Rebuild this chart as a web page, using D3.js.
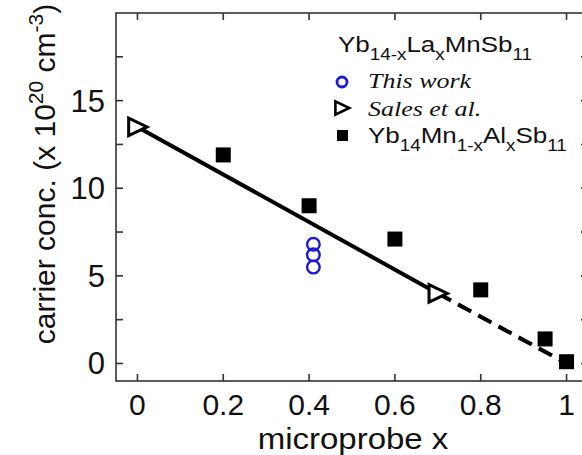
<!DOCTYPE html>
<html>
<head>
<meta charset="utf-8">
<script src="https://cdn.jsdelivr.net/npm/d3@7"></script>
<style>
  body { margin: 0; background: #fff; }
  svg { display: block; }
  text { font-family: "Liberation Sans", Arial, Helvetica, sans-serif; fill: #111; }
  .it { font-family: "Liberation Serif", "Times New Roman", serif; font-style: italic; }
</style>
</head>
<body>
<div id="chart"></div>
<script>
// 数据
var thisWorkX = [0.41, 0.41, 0.41];
var thisWorkY = [6.8, 6.2, 5.5];
var salesX = [0, 0.7];
var salesY = [13.5, 4.0];
var alX = [0.2, 0.4, 0.6, 0.8, 0.95, 1.0];
var alY = [11.9, 9.0, 7.1, 4.2, 1.4, 0.1];
// 拟合线: 实线段 + 虚线段
var fitSolidX = [0, 0.7];
var fitSolidY = [13.5, 4.0];
var fitDashX = [0.7, 1.0];
var fitDashY = [4.0, 0.0];
var xTicks = [0, 0.2, 0.4, 0.6, 0.8, 1];
var xTickLabels = ['0', '0.2', '0.4', '0.6', '0.8', '1'];
var yTicks = [0, 2.5, 5, 7.5, 10, 12.5, 15, 17.5];
var yTickLabels = [0, 5, 10, 15];

var width = 582;
var height = 455;
var plot = { left: 116, top: 13, right: 588, bottom: 381 };

var svg = d3.select('#chart')
    .append('svg')
    .attr('width', width)
    .attr('height', height);

var xScale = d3.scaleLinear()
    .domain([-0.05, 1.05])
    .range([plot.left, plot.right]);
var yScale = d3.scaleLinear()
    .domain([-1, 20])
    .range([plot.bottom, plot.top]);

var frameColor = '#333';
var tickLen = 7;

// 四条边框
svg.append('rect')
    .attr('x', plot.left)
    .attr('y', plot.top)
    .attr('width', plot.right - plot.left)
    .attr('height', plot.bottom - plot.top)
    .attr('fill', 'none')
    .attr('stroke', frameColor)
    .attr('stroke-width', 1.6);

// 刻度 (朝内)
var ticks = svg.append('g').attr('stroke', frameColor).attr('stroke-width', 1.6);
xTicks.forEach(function (t) {
    ticks.append('line')
        .attr('x1', xScale(t)).attr('x2', xScale(t))
        .attr('y1', plot.bottom).attr('y2', plot.bottom - tickLen);
    ticks.append('line')
        .attr('x1', xScale(t)).attr('x2', xScale(t))
        .attr('y1', plot.top).attr('y2', plot.top + tickLen);
});
yTicks.forEach(function (t) {
    ticks.append('line')
        .attr('x1', plot.left).attr('x2', plot.left + tickLen)
        .attr('y1', yScale(t)).attr('y2', yScale(t));
    ticks.append('line')
        .attr('x1', plot.right).attr('x2', plot.right - tickLen)
        .attr('y1', yScale(t)).attr('y2', yScale(t));
});

// 刻度标签
svg.append('g')
    .selectAll('text')
    .data(xTicks)
    .enter()
    .append('text')
    .attr('x', function (d) { return xScale(d); })
    .attr('y', 414.5)
    .attr('text-anchor', 'middle')
    .attr('font-size', 30)
    .text(function (d, i) { return xTickLabels[i]; });

svg.append('g')
    .selectAll('text')
    .data(yTickLabels)
    .enter()
    .append('text')
    .attr('x', 105)
    .attr('y', function (d) { return yScale(d) + 11; })
    .attr('text-anchor', 'end')
    .attr('font-size', 31)
    .text(function (d) { return d; });

// 轴标题
svg.append('text')
    .attr('transform', 'translate(353,448.5) scale(1.1,1)')
    .attr('text-anchor', 'middle')
    .attr('font-size', 30)
    .text('microprobe x');

var yLabel = svg.append('text')
    .attr('transform', 'translate(55,174) rotate(-90)')
    .attr('text-anchor', 'middle')
    .attr('font-size', 30);
yLabel.append('tspan').text('carrier conc. (x 10');
yLabel.append('tspan').attr('font-size', 21).attr('dy', -12).text('20');
yLabel.append('tspan').attr('dy', 12).text(' cm');
yLabel.append('tspan').attr('font-size', 21).attr('dy', -12).text('-3');
yLabel.append('tspan').attr('dy', 12).text(')');

// 拟合线
var line = d3.line()
    .x(function (d) { return xScale(d[0]); })
    .y(function (d) { return yScale(d[1]); });

svg.append('path')
    .attr('d', line(d3.zip(fitSolidX, fitSolidY)))
    .attr('fill', 'none')
    .attr('stroke', '#000')
    .attr('stroke-width', 4);
svg.append('path')
    .attr('d', line(d3.zip(fitDashX, fitDashY)))
    .attr('fill', 'none')
    .attr('stroke', '#000')
    .attr('stroke-width', 4)
    .attr('stroke-dasharray', '15,8');

// 方块
var sq = 15;
svg.append('g')
    .selectAll('rect')
    .data(d3.zip(alX, alY))
    .enter()
    .append('rect')
    .attr('x', function (d) { return xScale(d[0]) - sq / 2; })
    .attr('y', function (d) { return yScale(d[1]) - sq / 2; })
    .attr('width', sq)
    .attr('height', sq)
    .attr('fill', '#000');

// 三角形 (向右)
function triPath(s) {
    return 'M' + (-s * 0.55) + ',' + (-s * 0.55) + 'L' + (s * 0.6) + ',0L' + (-s * 0.55) + ',' + (s * 0.55) + 'Z';
}
svg.append('g')
    .selectAll('path')
    .data(d3.zip(salesX, salesY))
    .enter()
    .append('path')
    .attr('d', triPath(16))
    .attr('transform', function (d) {
        return 'translate(' + xScale(d[0]) + ',' + yScale(d[1]) + ')';
    })
    .attr('fill', '#fff')
    .attr('stroke', '#000')
    .attr('stroke-width', 3)
    .attr('stroke-linejoin', 'miter');

// 圆圈
svg.append('g')
    .selectAll('circle')
    .data(d3.zip(thisWorkX, thisWorkY))
    .enter()
    .append('circle')
    .attr('cx', function (d) { return xScale(d[0]); })
    .attr('cy', function (d) { return yScale(d[1]); })
    .attr('r', 6.3)
    .attr('fill', 'none')
    .attr('stroke', '#1a1ad8')
    .attr('stroke-width', 2.4);

// 图例 (原图文字横向略拉伸)
var leg = svg.append('g');
function legText(x, y, cls) {
    return leg.append('text')
        .attr('class', cls || null)
        .attr('transform', 'translate(' + x + ',' + y + ') scale(1.18,1)')
        .attr('font-size', 22);
}
var t1 = legText(338, 52);
t1.append('tspan').text('Yb');
t1.append('tspan').attr('font-size', 16).attr('dy', 8).text('14-x');
t1.append('tspan').attr('dy', -8).text('La');
t1.append('tspan').attr('font-size', 16).attr('dy', 8).text('x');
t1.append('tspan').attr('dy', -8).text('MnSb');
t1.append('tspan').attr('font-size', 16).attr('dy', 8).text('11');

leg.append('circle')
    .attr('cx', 342).attr('cy', 82).attr('r', 5)
    .attr('fill', 'none').attr('stroke', '#1a1ad8').attr('stroke-width', 2.8);
legText(368, 88, 'it').text('This work');

leg.append('path')
    .attr('d', triPath(12))
    .attr('transform', 'translate(342,108)')
    .attr('fill', '#fff').attr('stroke', '#000').attr('stroke-width', 2.6);
legText(368, 116, 'it').text('Sales et al.');

leg.append('rect')
    .attr('x', 337).attr('y', 130).attr('width', 11).attr('height', 11).attr('fill', '#000');
var t4 = legText(368, 143);
t4.append('tspan').text('Yb');
t4.append('tspan').attr('font-size', 16).attr('dy', 8).text('14');
t4.append('tspan').attr('dy', -8).text('Mn');
t4.append('tspan').attr('font-size', 16).attr('dy', 8).text('1-x');
t4.append('tspan').attr('dy', -8).text('Al');
t4.append('tspan').attr('font-size', 16).attr('dy', 8).text('x');
t4.append('tspan').attr('dy', -8).text('Sb');
t4.append('tspan').attr('font-size', 16).attr('dy', 8).text('11');
</script>
</body>
</html>
